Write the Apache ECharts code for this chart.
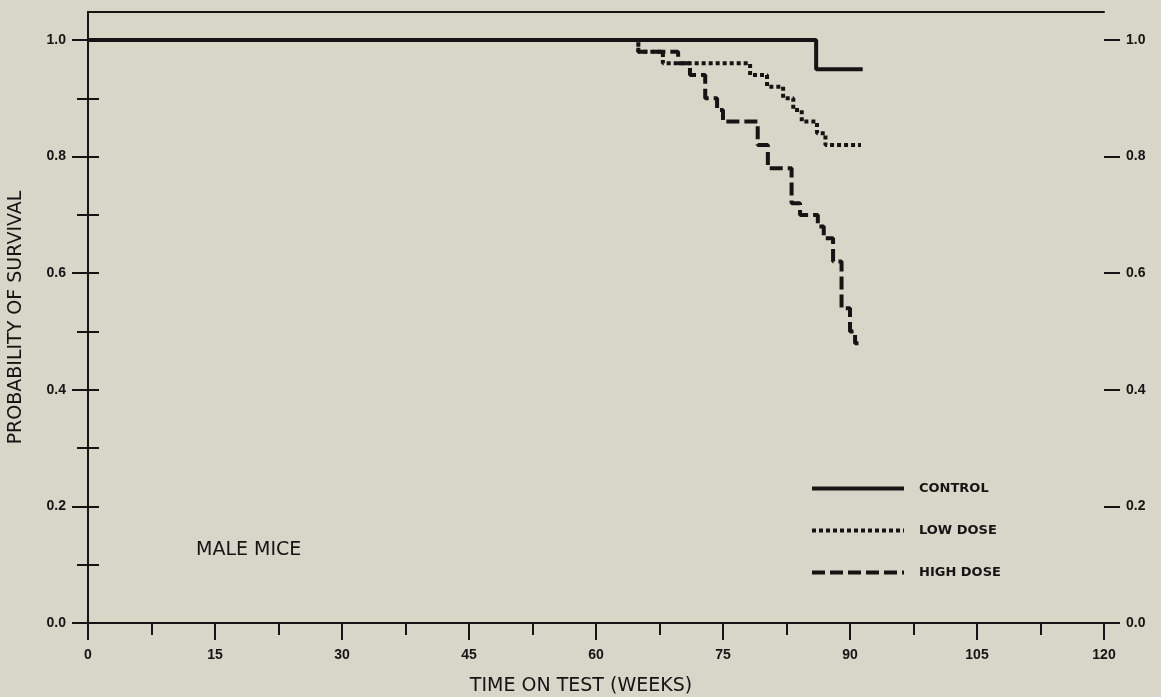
<!DOCTYPE html>
<html><head><meta charset="utf-8">
<script src="https://cdn.jsdelivr.net/npm/echarts@6/dist/echarts.min.js"></script>
<style>html,body{margin:0;padding:0;background:#d8d5c9;overflow:hidden;}#c{width:1161px;height:697px;}</style>
</head><body><div id="c"></div>
<script>
// Kaplan-Meier step data: [week, probability of survival]
const controlData = [[0,1.0],[86.0,0.95],[91.5,0.95]];
const lowDoseData = [[0,1.0],[65.0,0.98],[67.9,0.96],[78.2,0.94],[80.2,0.92],[82.1,0.90],[83.3,0.88],[84.3,0.86],[86.1,0.84],[87.1,0.82],[91.3,0.82]];
const highDoseData = [[0,1.0],[65.0,0.98],[69.7,0.96],[71.1,0.94],[72.9,0.90],[74.3,0.88],[75.0,0.86],[79.1,0.82],[80.3,0.78],[83.1,0.72],[84.1,0.70],[86.2,0.68],[86.9,0.66],[88.0,0.62],[89.0,0.54],[90.0,0.50],[90.6,0.48],[91.0,0.48]];
const seriesNames = ['CONTROL','LOW DOSE','HIGH DOSE'];
const yMajorTicks = [0,0.2,0.4,0.6,0.8,1.0];
const yMinorTicks = [0,0.1,0.2,0.3,0.4,0.5,0.6,0.7,0.8,0.9,1.0];
const xMin = 0, xMax = 120, xMajorStep = 15, xMinorStep = 7.5;
const yMin = 0, yMax = 1.048;
const annotation = 'MALE MICE';
const xTitle = 'TIME ON TEST (WEEKS)';
const yTitle = 'PROBABILITY OF SURVIVAL';

const ink = '#141414';
const font = 'DejaVu Sans, Liberation Sans, sans-serif';
const tickFont = 'Liberation Sans, Arial, sans-serif';
const chart = echarts.init(document.getElementById('c'), null, {renderer:'canvas', width:1161, height:697});

function yAxisDef(pos, major, withName) {
  return {
    type:'value', position:pos, min:yMin, max:yMax,
    splitLine:{show:false},
    axisLine:{show:major ? false : true, lineStyle:{color:ink, width:2}},
    axisTick:{show:true, inside:false, length: major ? 16 : 11, customValues: major ? yMajorTicks : yMinorTicks, lineStyle:{color:ink, width:2}},
    axisLabel:{show:major, customValues: yMajorTicks, margin:22, color:ink, fontSize:14, fontWeight:'bold', fontFamily:tickFont,
      formatter: v => v.toFixed(1)},
    name: withName ? yTitle : '', nameLocation:'middle', nameRotate:90, nameGap:62,
    nameTextStyle:{color:ink, fontSize:19, fontFamily:font}
  };
}

const option = {
  backgroundColor:'#d8d5c9',
  animation:false,
  grid:{left:88, width:1016, top:12, height:611, containLabel:false, outerBoundsMode:'none'},
  title:{text:annotation, left:196, top:541, padding:0, textStyle:{color:ink, fontSize:19, fontWeight:'normal', fontFamily:font}},
  legend:{
    orient:'vertical', left:810, top:482, padding:0, itemWidth:92, itemHeight:14, itemGap:29,
    data:seriesNames,
    itemStyle:{opacity:0, borderWidth:0},
    lineStyle:{width:4},
    textStyle:{color:ink, fontSize:13, fontFamily:font, fontWeight:'bold', padding:[0,0,0,10]},
    selectedMode:false
  },
  xAxis:[
    {type:'value', position:'bottom', min:xMin, max:xMax, interval:xMinorStep,
      splitLine:{show:false}, axisLine:{show:true, onZero:false, lineStyle:{color:ink, width:2}},
      axisTick:{show:true, length:12, lineStyle:{color:ink, width:2}}, axisLabel:{show:false}},
    {type:'value', position:'bottom', min:xMin, max:xMax, interval:xMajorStep,
      splitLine:{show:false}, axisLine:{show:false, onZero:false},
      axisTick:{show:true, length:17, lineStyle:{color:ink, width:2}},
      axisLabel:{show:true, margin:25, color:ink, fontSize:14, fontWeight:'bold', fontFamily:tickFont},
      name:xTitle, nameLocation:'middle', nameGap:54,
      nameTextStyle:{color:ink, fontSize:19, fontFamily:font, padding:[0,30,0,0]}},
    {type:'value', position:'top', min:xMin, max:xMax,
      splitLine:{show:false}, axisLine:{show:true, onZero:false, lineStyle:{color:ink, width:2}},
      axisTick:{show:false}, axisLabel:{show:false}}
  ],
  yAxis:[
    yAxisDef('left', false, false),
    yAxisDef('left', true, true),
    yAxisDef('right', false, false),
    yAxisDef('right', true, false)
  ],
  series:[
    {name:seriesNames[0], type:'line', step:'end', data:controlData, symbol:'none', xAxisIndex:0, yAxisIndex:0,
      lineStyle:{color:ink, width:4, type:'solid'}, itemStyle:{color:ink}, z:3},
    {name:seriesNames[1], type:'line', step:'end', data:lowDoseData, symbol:'none', xAxisIndex:0, yAxisIndex:0,
      lineStyle:{color:ink, width:4, type:[4,3]}, itemStyle:{color:ink}, z:2},
    {name:seriesNames[2], type:'line', step:'end', data:highDoseData, symbol:'none', xAxisIndex:0, yAxisIndex:0,
      lineStyle:{color:ink, width:4, type:[13,5]}, itemStyle:{color:ink}, z:2}
  ]
};
chart.setOption(option);
</script></body></html>
